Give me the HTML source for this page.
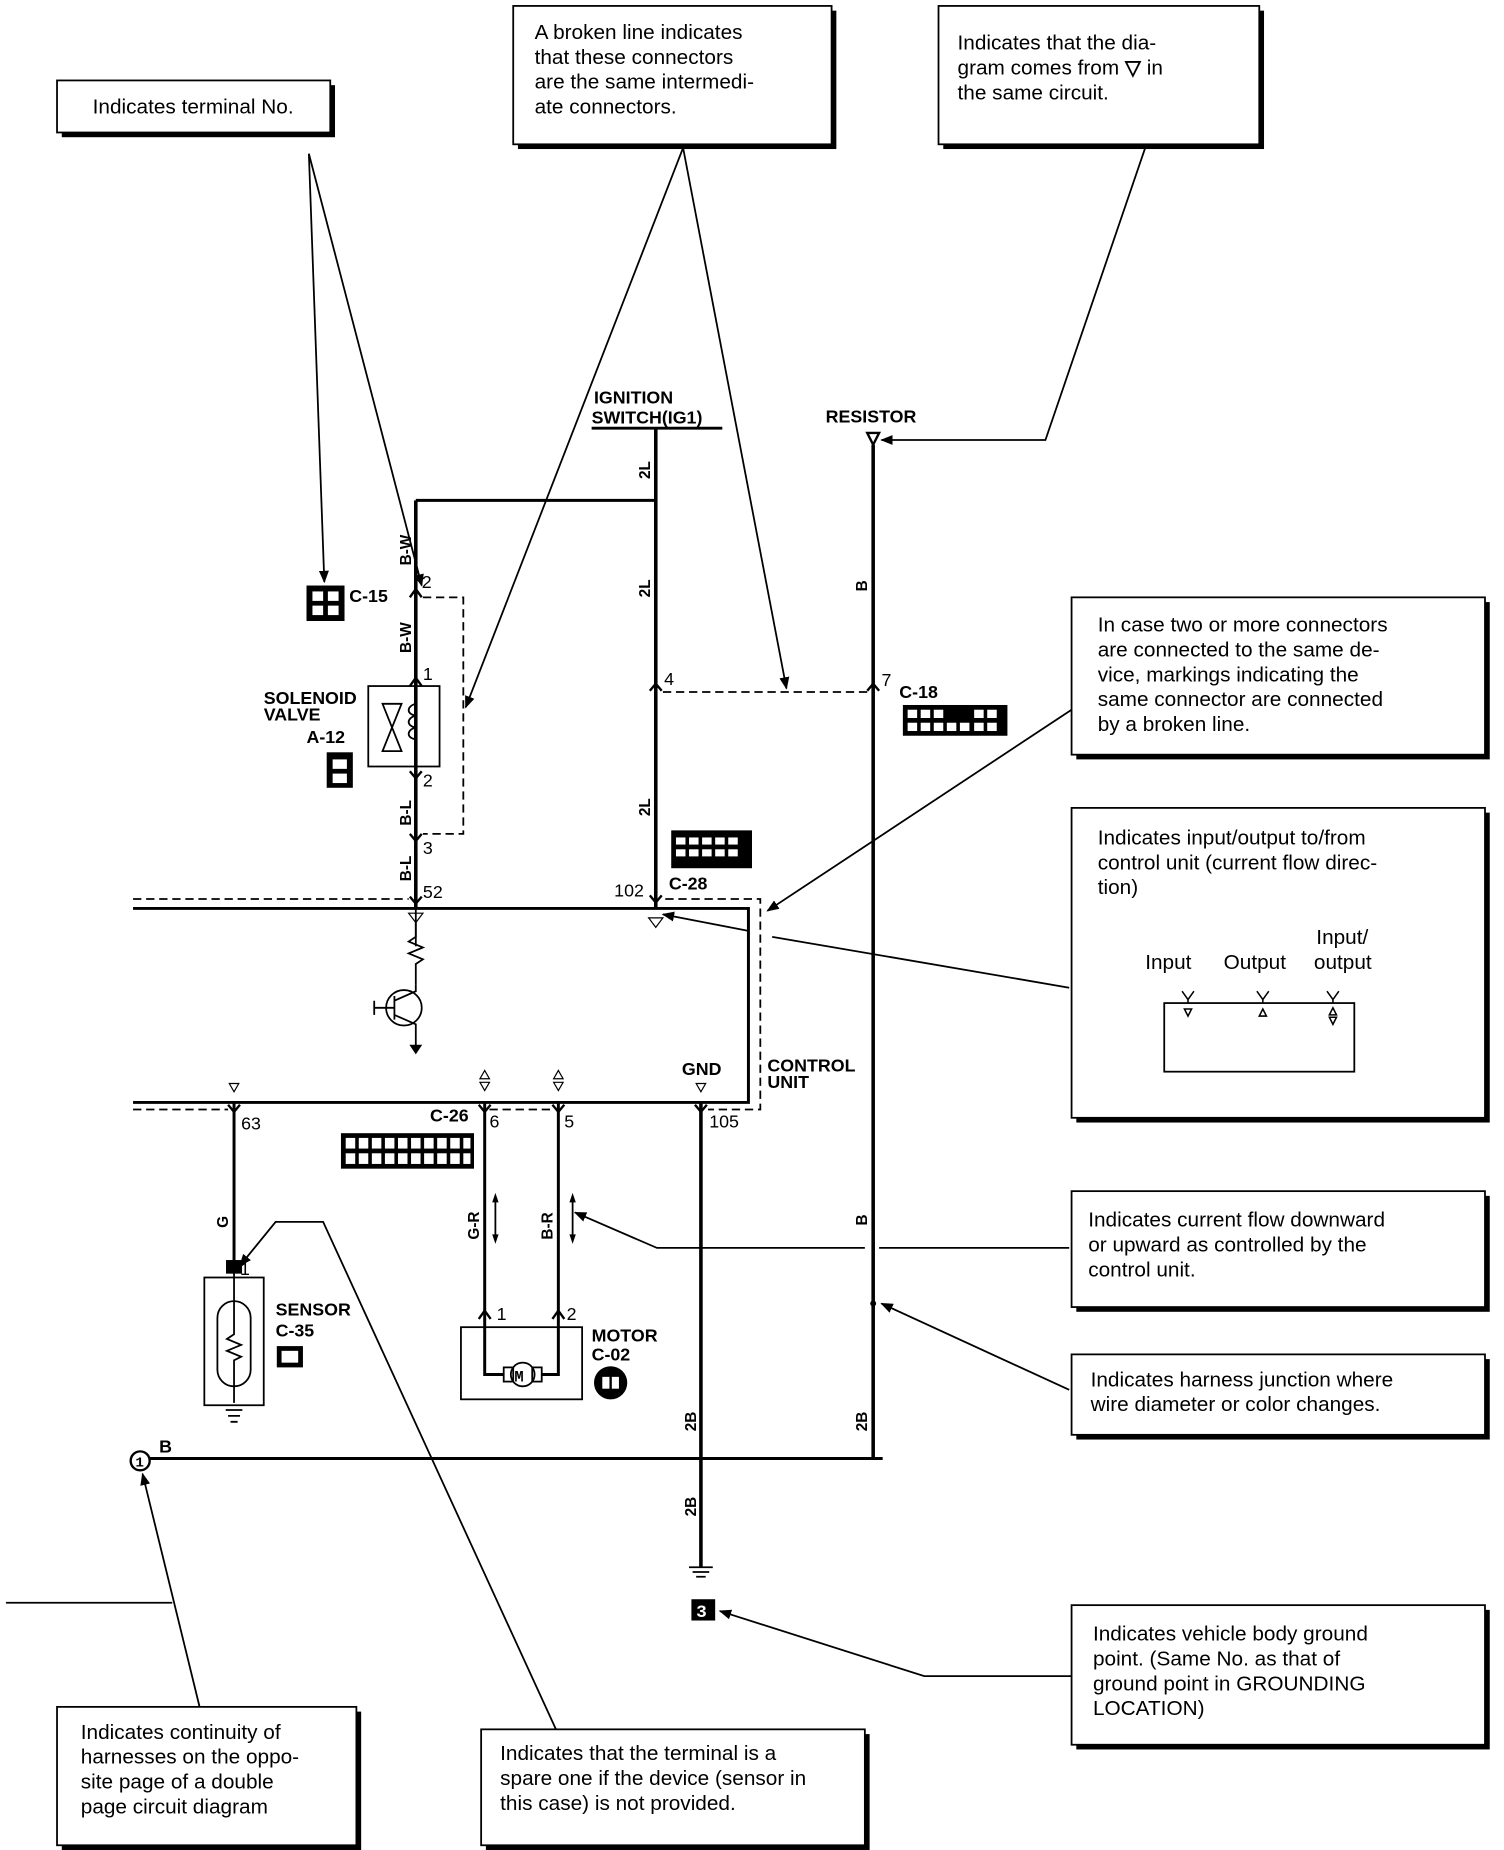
<!DOCTYPE html>
<html><head><meta charset="utf-8"><style>
html,body{margin:0;padding:0;background:#fff;}
svg{display:block;}
text{font-family:"Liberation Sans",sans-serif;fill:#000;}
.m{font-family:"Liberation Mono",monospace;font-weight:bold;}
</style></head><body>
<svg width="1504" height="1850" viewBox="0 0 1266 1564" preserveAspectRatio="none" xmlns="http://www.w3.org/2000/svg">
<defs>
<marker id="a" viewBox="0 0 10 10" refX="9" refY="5" markerWidth="7" markerHeight="7" orient="auto-start-reverse"><path d="M0,1 L10,5 L0,9 Z" fill="#000"/></marker>
</defs>
<rect width="1266" height="1564" fill="#fff"/>
<g fill="#fff" stroke="#000" stroke-width="1.5">
<g>
<rect x="52" y="72" width="230" height="44" fill="#000" stroke="none"/><rect x="48" y="68" width="230" height="44"/>
<rect x="436" y="9" width="268" height="117" fill="#000" stroke="none"/><rect x="432" y="5" width="268" height="117"/>
<rect x="794" y="9" width="270" height="117" fill="#000" stroke="none"/><rect x="790" y="5" width="270" height="117"/>
<rect x="906" y="509" width="348" height="133" fill="#000" stroke="none"/><rect x="902" y="505" width="348" height="133"/>
<rect x="906" y="687" width="348" height="262" fill="#000" stroke="none"/><rect x="902" y="683" width="348" height="262"/>
<rect x="906" y="1011" width="348" height="98" fill="#000" stroke="none"/><rect x="902" y="1007" width="348" height="98"/>
<rect x="906" y="1149" width="348" height="68" fill="#000" stroke="none"/><rect x="902" y="1145" width="348" height="68"/>
<rect x="906" y="1361" width="348" height="118" fill="#000" stroke="none"/><rect x="902" y="1357" width="348" height="118"/>
<rect x="52" y="1447" width="252" height="117" fill="#000" stroke="none"/><rect x="48" y="1443" width="252" height="117"/>
<rect x="409" y="1466" width="323" height="98" fill="#000" stroke="none"/><rect x="405" y="1462" width="323" height="98"/>
</g>
<rect x="980" y="848" width="160" height="58"/>
</g>
<g font-size="17.5">
<text x="78" y="96">Indicates terminal No.</text>
<text x="450" y="33">A broken line indicates</text>
<text x="450" y="54">that these connectors</text>
<text x="450" y="75">are the same intermedi-</text>
<text x="450" y="96">ate connectors.</text>
<text x="806" y="42">Indicates that the dia-</text>
<text x="806" y="63">gram comes from <tspan font-weight="bold">▽</tspan> in</text>
<text x="806" y="84">the same circuit.</text>
<text x="924" y="534">In case two or more connectors</text>
<text x="924" y="555">are connected to the same de-</text>
<text x="924" y="576">vice, markings indicating the</text>
<text x="924" y="597">same connector are connected</text>
<text x="924" y="618">by a broken line.</text>
<text x="924" y="714">Indicates input/output to/from</text>
<text x="924" y="735">control unit (current flow direc-</text>
<text x="924" y="756">tion)</text>
<text x="1108" y="798">Input/</text>
<text x="964" y="819">Input</text><text x="1030" y="819">Output</text><text x="1106" y="819">output</text>
<text x="916" y="1037">Indicates current flow downward</text>
<text x="916" y="1058">or upward as controlled by the</text>
<text x="916" y="1079">control unit.</text>
<text x="918" y="1172">Indicates harness junction where</text>
<text x="918" y="1193">wire diameter or color changes.</text>
<text x="920" y="1387">Indicates vehicle body ground</text>
<text x="920" y="1408">point. (Same No. as that of</text>
<text x="920" y="1429">ground point in GROUNDING</text>
<text x="920" y="1450">LOCATION)</text>
<text x="68" y="1470">Indicates continuity of</text>
<text x="68" y="1491">harnesses on the oppo-</text>
<text x="68" y="1512">site page of a double</text>
<text x="68" y="1533">page circuit diagram</text>
<text x="421" y="1488">Indicates that the terminal is a</text>
<text x="421" y="1509">spare one if the device (sensor in</text>
<text x="421" y="1530">this case) is not provided.</text>
</g>
<g stroke="#000" stroke-width="1.3" fill="none">
<path d="M995,838 L1000,845 L1005,838 M1000,845 V848"/><path d="M997,853 L1003,853 L1000,859Z"/>
<path d="M1058,838 L1063,845 L1068,838 M1063,845 V848"/><path d="M1060,859 L1066,859 L1063,853Z"/>
<path d="M1117,838 L1122,845 L1127,838 M1122,845 V848"/><path d="M1119,858 L1125,858 L1122,852Z M1119,860 L1125,860 L1122,866Z"/>
</g>
<g stroke="#000" fill="none">
<path d="M498,362 H608" stroke-width="2.5"/>
<path d="M552,362 V768" stroke-width="3"/>
<path d="M350,423 H552" stroke-width="2.5"/>
<path d="M350,423 V768" stroke-width="3"/>
<path d="M350,768 V800" stroke-width="1.5"/>
<path d="M735,376 V1233" stroke-width="3"/>
<path d="M126,1233 H743" stroke-width="2.5"/>
<path d="M112,768 H630 V932 H112" stroke-width="2.5"/>
<path d="M112,760 H344 M560,760 H640 V938 H596 M112,938 H192 M412,938 H466" stroke-width="1.5" stroke-dasharray="7,4"/>
<path d="M356,505 H390 V705 H356" stroke-width="1.5" stroke-dasharray="7,4"/>
<path d="M558,585 H730" stroke-width="1.5" stroke-dasharray="7,4"/>
<path d="M197,932 V1070" stroke-width="2.5"/>
<path d="M408,932 V1162 H424 M470,932 V1162 H456" stroke-width="2.5"/>
<path d="M590,932 V1325" stroke-width="3"/>
<path d="M580,1325 H600 M583,1329 H597 M586,1333 H594" stroke-width="1.5"/>
</g>
<g stroke="#000" fill="none" stroke-width="1.5">
<rect x="310" y="580" width="60" height="68"/>
<path d="M322,595 L338,595 L322,635 L338,635 Z"/>
<path d="M350,585 V595 C342,597 342,604 350,605 C342,607 342,614 350,615 C342,617 342,624 350,625 V648"/>
</g>
<g stroke="#000" fill="none" stroke-width="1.5">
<path d="M350,780 V792 L344,796 L356,801 L344,806 L356,811 L350,815 V832"/>
<circle cx="340" cy="852" r="15"/>
<path d="M315,852 H332 M332,842 V862 M332,846 L350,838 V832 M332,858 L350,866 V885 M315,846 V858"/>
<path d="M346,884 H354 L350,890Z" fill="#000"/>
</g>
<g stroke="#000" fill="none" stroke-width="1.5">
<rect x="172" y="1080" width="50" height="108"/>
<rect x="183" y="1100" width="28" height="72" rx="14"/>
<path d="M197,1070 V1128 L191,1132 L203,1137 L191,1142 L203,1147 L197,1150 V1186 M190,1192 H204 M192,1197 H202 M194,1202 H200"/>
<rect x="191" y="1066" width="12" height="10" fill="#000"/>
</g>
<g stroke="#000" fill="none" stroke-width="1.5">
<rect x="388" y="1122" width="102" height="61"/>
<rect x="424" y="1156" width="8" height="12"/><rect x="448" y="1156" width="8" height="12"/>
<circle cx="440" cy="1162" r="10"/>
</g>
<text x="433" y="1168" font-size="13" class="m">M</text>
<g fill="#000" stroke="#000" stroke-width="1">
<path d="M730,366 H740 L735,376Z" fill="none" stroke-width="2"/>
<path d="M546,776 H558 L552,784Z" fill="none"/>
<path d="M344,772 H356 L350,780Z" fill="none"/>
<path d="M193,916 H201 L197,923Z" fill="none"/><path d="M586,916 H594 L590,923Z" fill="none"/>
<path d="M404,912 L408,905 L412,912Z M404,915 L412,915 L408,922Z" fill="none"/>
<path d="M466,912 L470,905 L474,912Z M466,915 L474,915 L470,922Z" fill="none"/>
<path d="M345,505 L350,498 L355,505" fill="none" stroke-width="2"/>
<path d="M345,580 L350,573 L355,580" fill="none" stroke-width="2"/>
<path d="M345,652 L350,658 L355,652" fill="none" stroke-width="2"/>
<path d="M345,705 L350,711 L355,705" fill="none" stroke-width="2"/>
<path d="M345,758 L350,764 L355,758" fill="none" stroke-width="2"/>
<path d="M547,584 L552,578 L557,584" fill="none" stroke-width="2"/>
<path d="M730,584 L735,578 L740,584" fill="none" stroke-width="2"/>
<path d="M547,757 L552,763 L557,757" fill="none" stroke-width="2"/>
<path d="M192,934 L197,940 L202,934 M403,934 L408,940 L413,934 M465,934 L470,940 L475,934 M585,934 L590,940 L595,934" fill="none" stroke-width="2"/>
<path d="M403,1115 L408,1108 L413,1115 M465,1115 L470,1108 L475,1115" fill="none" stroke-width="2"/>
<path d="M417,1012 V1048 M482,1012 V1048" stroke-width="1.5"/>
<path d="M415,1016 L417,1010 L419,1016Z M415,1044 L417,1050 L419,1044Z M480,1016 L482,1010 L484,1016Z M480,1044 L482,1050 L484,1044Z"/>
<circle cx="735" cy="1102" r="2"/>
</g>
<circle cx="118" cy="1235" r="8" fill="#fff" stroke="#000" stroke-width="2"/>
<text x="114" y="1240" font-size="12" class="m">1</text>
<rect x="582" y="1352" width="20" height="18" fill="#000"/>
<text x="586" y="1367" font-size="15" class="m" style="fill:#fff">3</text>
<g fill="#000">
<rect x="258" y="495" width="32" height="30"/>
<rect x="275" y="636" width="22" height="30"/>
<rect x="565" y="702" width="68" height="32"/>
<rect x="760" y="596" width="88" height="26"/>
<rect x="287" y="958" width="112" height="30"/>
<rect x="233" y="1138" width="22" height="18"/>
<circle cx="514" cy="1169" r="14"/>
</g>
<g fill="#fff">
<rect x="263" y="500" width="9" height="8"/><rect x="276" y="500" width="9" height="8"/><rect x="263" y="512" width="9" height="8"/><rect x="276" y="512" width="9" height="8"/>
<rect x="280" y="642" width="12" height="8"/><rect x="280" y="654" width="12" height="8"/>
<g>
<rect x="569" y="708" width="8" height="6"/><rect x="580" y="708" width="8" height="6"/><rect x="591" y="708" width="8" height="6"/><rect x="602" y="708" width="8" height="6"/><rect x="613" y="708" width="8" height="6"/>
<rect x="569" y="718" width="8" height="6"/><rect x="580" y="718" width="8" height="6"/><rect x="591" y="718" width="8" height="6"/><rect x="602" y="718" width="8" height="6"/><rect x="613" y="718" width="8" height="6"/>
</g>
<g>
<rect x="764" y="600" width="8" height="7"/><rect x="775" y="600" width="8" height="7"/><rect x="786" y="600" width="8" height="7"/><rect x="820" y="600" width="8" height="7"/><rect x="831" y="600" width="8" height="7"/>
<rect x="764" y="611" width="8" height="7"/><rect x="775" y="611" width="8" height="7"/><rect x="786" y="611" width="8" height="7"/><rect x="797" y="611" width="8" height="7"/><rect x="808" y="611" width="8" height="7"/><rect x="820" y="611" width="8" height="7"/><rect x="831" y="611" width="8" height="7"/>
</g>
<g>
<rect x="291" y="962" width="8" height="9"/><rect x="302" y="962" width="8" height="9"/><rect x="313" y="962" width="8" height="9"/><rect x="324" y="962" width="8" height="9"/><rect x="335" y="962" width="8" height="9"/><rect x="346" y="962" width="8" height="9"/><rect x="357" y="962" width="8" height="9"/><rect x="368" y="962" width="8" height="9"/><rect x="379" y="962" width="8" height="9"/><rect x="390" y="962" width="6" height="9"/>
<rect x="291" y="975" width="8" height="9"/><rect x="302" y="975" width="8" height="9"/><rect x="313" y="975" width="8" height="9"/><rect x="324" y="975" width="8" height="9"/><rect x="335" y="975" width="8" height="9"/><rect x="346" y="975" width="8" height="9"/><rect x="357" y="975" width="8" height="9"/><rect x="368" y="975" width="8" height="9"/><rect x="379" y="975" width="8" height="9"/><rect x="390" y="975" width="6" height="9"/>
</g>
<rect x="237" y="1142" width="14" height="10"/>
<rect x="507" y="1164" width="6" height="10"/><rect x="515" y="1164" width="6" height="10"/>
</g>
<g font-size="15" class="m">
<text x="500" y="341">IGNITION</text>
<text x="498" y="358">SWITCH(IG1)</text>
<text x="695" y="357">RESISTOR</text>
<text x="222" y="595">SOLENOID</text>
<text x="222" y="609">VALVE</text>
<text x="258" y="628">A-12</text>
<text x="294" y="509">C-15</text>
<text x="757" y="590">C-18</text>
<text x="563" y="752">C-28</text>
<text x="362" y="948">C-26</text>
<text x="232" y="1112">SENSOR</text>
<text x="232" y="1130">C-35</text>
<text x="498" y="1134">MOTOR</text>
<text x="498" y="1150">C-02</text>
<text x="574" y="909">GND</text>
<text x="646" y="906">CONTROL</text>
<text x="646" y="920">UNIT</text>
<text x="134" y="1228">B</text>
</g>
<g font-size="15">
<text x="355" y="497">2</text><text x="356" y="575">1</text><text x="356" y="665">2</text><text x="356" y="722">3</text>
<text x="356" y="759">52</text><text x="517" y="758">102</text><text x="559" y="579">4</text><text x="742" y="580">7</text>
<text x="203" y="955">63</text><text x="412" y="953">6</text><text x="475" y="953">5</text><text x="597" y="953">105</text>
<text x="202" y="1078">1</text><text x="418" y="1116">1</text><text x="477" y="1116">2</text>
</g>
<g font-size="13" class="m">
<text transform="translate(346,478) rotate(-90)">B-W</text>
<text transform="translate(346,552) rotate(-90)">B-W</text>
<text transform="translate(346,698) rotate(-90)">B-L</text>
<text transform="translate(346,745) rotate(-90)">B-L</text>
<text transform="translate(547,405) rotate(-90)">2L</text>
<text transform="translate(547,505) rotate(-90)">2L</text>
<text transform="translate(547,690) rotate(-90)">2L</text>
<text transform="translate(730,500) rotate(-90)">B</text>
<text transform="translate(730,1036) rotate(-90)">B</text>
<text transform="translate(730,1210) rotate(-90)">2B</text>
<text transform="translate(586,1210) rotate(-90)">2B</text>
<text transform="translate(586,1282) rotate(-90)">2B</text>
<text transform="translate(192,1038) rotate(-90)">G</text>
<text transform="translate(403,1048) rotate(-90)">G-R</text>
<text transform="translate(465,1048) rotate(-90)">B-R</text>
</g>
<g stroke="#000" fill="none" stroke-width="1.5">
<path d="M260,130 L273,492" marker-end="url(#a)"/>
<path d="M260,130 L355,495" marker-end="url(#a)"/>
<path d="M575,125 L392,598" marker-end="url(#a)"/>
<path d="M575,125 L662,582" marker-end="url(#a)"/>
<path d="M965,122 L880,372 L742,372" marker-end="url(#a)"/>
<path d="M902,600 L646,770" marker-end="url(#a)"/>
<path d="M900,835 L650,792"/>
<path d="M630,787 L558,773" marker-end="url(#a)"/>
<path d="M900,1055 H740 M728,1055 H553 L484,1025" marker-end="url(#a)"/>
<path d="M900,1175 L742,1102" marker-end="url(#a)"/>
<path d="M902,1417 H778 L606,1362" marker-end="url(#a)"/>
<path d="M5,1355 H145"/>
<path d="M168,1443 L120,1246" marker-end="url(#a)"/>
<path d="M468,1462 L272,1033 H232 L202,1070" marker-end="url(#a)"/>
</g>
</svg>
</body></html>
